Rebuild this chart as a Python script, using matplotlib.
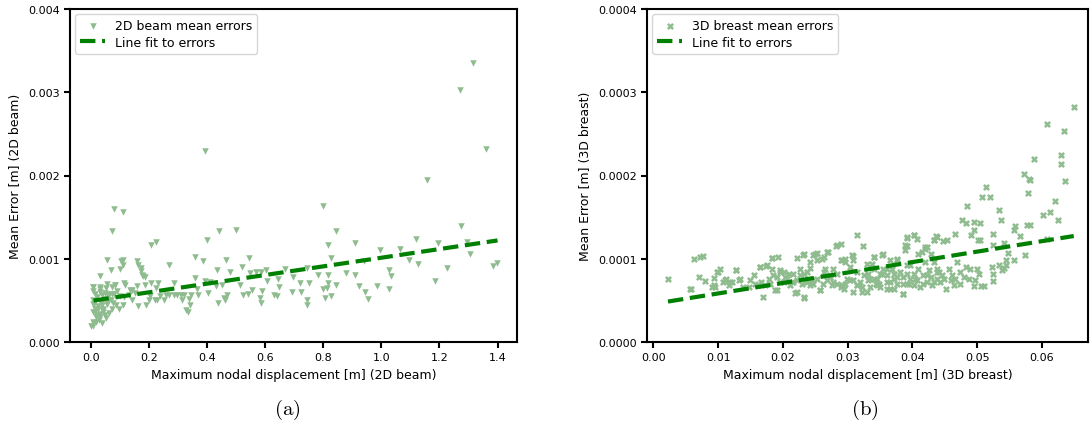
import numpy as np
import matplotlib
matplotlib.use("Agg")
import matplotlib.pyplot as plt
from matplotlib.ticker import FormatStrFormatter

plt.rcParams['font.family'] = ['DejaVu Sans']
plt.rcParams['mathtext.fontset'] = 'cm'

# ---- 2D beam data (x in m, y in 1e-3 m) ----
beam_pts = [
    (1.317, 3.35), (1.270, 3.03), (0.394, 2.30), (1.359, 2.32), (1.157, 1.95),
    (0.080, 1.60), (0.110, 1.56), (0.072, 1.33), (0.799, 1.63), (0.442, 1.33),
    (0.499, 1.34), (0.401, 1.22), (0.206, 1.17), (0.224, 1.20), (0.844, 1.33),
    (0.817, 1.17), (0.908, 1.19), (1.273, 1.39), (1.119, 1.24), (1.194, 1.19),
    (1.296, 1.20), (1.065, 1.12), (0.997, 1.11), (1.305, 1.06), (1.095, 0.98),
    (1.128, 0.94), (1.226, 0.89), (1.383, 0.91), (1.399, 0.95), (1.185, 0.73),
    (0.939, 0.97), (1.026, 0.86), (1.033, 0.79), (1.026, 0.64), (0.984, 0.67),
    (0.956, 0.52), (0.943, 0.60), (0.924, 0.67), (0.910, 0.80), (0.879, 0.83),
    (0.826, 1.01), (0.818, 0.80), (0.815, 0.71), (0.812, 0.65), (0.800, 0.64),
    (0.827, 0.55), (0.807, 0.53), (0.843, 0.68), (0.781, 0.81), (0.743, 0.89),
    (0.752, 0.71), (0.721, 0.71), (0.724, 0.60), (0.744, 0.50), (0.745, 0.45),
    (0.695, 0.78), (0.692, 0.60), (0.669, 0.88), (0.648, 0.66), (0.646, 0.76),
    (0.641, 0.55), (0.630, 0.56), (0.608, 0.73), (0.602, 0.87), (0.585, 0.84),
    (0.588, 0.61), (0.583, 0.53), (0.586, 0.47), (0.568, 0.84), (0.548, 0.83),
    (0.554, 0.62), (0.544, 1.01), (0.522, 0.90), (0.514, 0.69), (0.525, 0.57),
    (0.543, 0.58), (0.479, 0.84), (0.467, 0.99), (0.468, 0.57), (0.459, 0.53),
    (0.463, 0.50), (0.437, 0.47), (0.452, 0.68), (0.435, 0.87), (0.430, 0.67),
    (0.410, 0.72), (0.405, 0.59), (0.393, 0.73), (0.388, 0.97), (0.369, 0.57),
    (0.366, 0.64), (0.360, 0.77), (0.359, 1.02), (0.344, 0.57), (0.339, 0.52),
    (0.343, 0.45), (0.329, 0.39), (0.335, 0.36), (0.320, 0.56), (0.315, 0.50),
    (0.310, 0.57), (0.298, 0.57), (0.286, 0.71), (0.286, 0.57), (0.268, 0.93),
    (0.271, 0.56), (0.253, 0.51), (0.258, 0.56), (0.237, 0.55), (0.229, 0.51),
    (0.232, 0.71), (0.224, 0.65), (0.204, 0.55), (0.200, 0.50), (0.190, 0.44),
    (0.187, 0.69), (0.187, 0.78), (0.180, 0.79), (0.174, 0.85), (0.172, 0.89),
    (0.158, 0.97), (0.158, 0.67), (0.164, 0.43), (0.154, 0.59), (0.144, 0.62),
    (0.131, 0.57), (0.119, 0.69), (0.115, 0.71), (0.110, 0.92), (0.106, 0.97),
    (0.113, 0.99), (0.101, 0.88), (0.116, 0.54), (0.111, 0.44), (0.101, 0.55),
    (0.089, 0.61), (0.083, 0.68), (0.069, 0.87), (0.057, 0.98), (0.032, 0.79),
    (0.009, 0.66), (0.007, 0.61), (0.032, 0.64), (0.053, 0.65), (0.072, 0.66),
    (0.081, 0.58), (0.064, 0.57), (0.049, 0.59), (0.038, 0.56), (0.021, 0.54),
    (0.069, 0.50), (0.087, 0.44), (0.072, 0.40), (0.064, 0.35), (0.049, 0.32),
    (0.032, 0.30), (0.021, 0.32), (0.009, 0.36), (0.015, 0.40), (0.044, 0.40),
    (0.026, 0.43), (0.011, 0.46), (0.034, 0.47), (0.055, 0.46), (0.044, 0.36),
    (0.030, 0.26), (0.018, 0.24), (0.007, 0.19), (0.000, 0.19), (0.038, 0.23),
    (0.053, 0.29), (0.058, 0.50), (0.076, 0.47), (0.009, 0.50), (0.098, 0.40),
    (0.144, 0.50), (0.135, 0.63), (0.176, 0.81), (0.164, 0.92), (0.209, 0.71),
    (0.221, 0.50),
    (0.009, 0.24), (0.020, 0.30), (0.032, 0.34), (0.015, 0.36), (0.026, 0.40),
    (0.043, 0.38), (0.038, 0.44), (0.055, 0.46), (0.049, 0.52), (0.061, 0.50),
    (0.009, 0.46), (0.015, 0.58), (0.032, 0.60), (0.055, 0.58), (0.072, 0.58),
    (0.009, 0.66), (0.032, 0.66), (0.055, 0.70), (0.084, 0.68),
]
beam_x = np.array([p[0] for p in beam_pts])
beam_err = np.array([p[1] for p in beam_pts]) * 1e-3
beam_fit_x = [0.01, 1.40]
beam_fit_y = [0.000498, 0.00122]

# ---- 3D breast data (x in 1e-3 m, y in 1e-4 m) ----
breast_pts = [
    (64.9, 2.82), (60.8, 2.62), (63.4, 2.53), (58.8, 2.20), (62.9, 2.25),
    (63.0, 2.14), (57.2, 2.02), (58.0, 1.96), (58.1, 1.94), (57.8, 1.79),
    (63.6, 1.93), (62.0, 1.69), (61.2, 1.56), (60.1, 1.53), (62.4, 1.47),
    (51.4, 1.86), (50.7, 1.74), (52.0, 1.74), (48.4, 1.63), (53.3, 1.59),
    (53.7, 1.47), (47.7, 1.46), (48.3, 1.43), (49.5, 1.44), (50.5, 1.43),
    (55.8, 1.39), (55.7, 1.34), (56.6, 1.27), (57.7, 1.41), (58.1, 1.41),
    (49.1, 1.28), (49.5, 1.34), (50.1, 1.22), (50.5, 1.22), (52.4, 1.30),
    (52.5, 1.17), (54.1, 1.19), (54.7, 1.07), (54.5, 0.99), (55.7, 0.98),
    (57.4, 1.05), (60.8, 1.24), (46.6, 1.30), (45.4, 1.23), (44.7, 1.21),
    (43.7, 1.27), (43.3, 1.22), (42.3, 1.14), (42.0, 1.12), (40.2, 1.29),
    (39.2, 1.25), (39.1, 1.15), (38.9, 1.10), (40.7, 1.24), (31.5, 1.28),
    (32.3, 1.15), (28.9, 1.18), (28.2, 1.15), (26.9, 1.08), (25.2, 1.07),
    (24.7, 1.05), (23.1, 1.05), (22.2, 1.01), (19.3, 1.02), (18.4, 1.01),
    (26.0, 1.00), (17.4, 0.91), (16.4, 0.90), (12.8, 0.87), (10.3, 0.88),
    (9.8, 0.84), (7.7, 1.03), (7.2, 1.02), (6.3, 1.00), (2.2, 0.76),
    (7.1, 0.78), (8.0, 0.73), (5.7, 0.64), (9.0, 0.66), (9.4, 0.68),
    (10.8, 0.72), (11.3, 0.76), (12.1, 0.72), (13.3, 0.75), (11.7, 0.68),
    (13.9, 0.66), (15.5, 0.81), (17.0, 0.54), (17.8, 0.76), (16.7, 0.72),
    (18.5, 0.80), (18.8, 0.62), (19.6, 0.72), (20.1, 0.84), (20.6, 0.76),
    (21.6, 0.72), (21.8, 0.59), (22.7, 0.80), (23.3, 0.54), (23.7, 0.72),
    (24.2, 0.89), (24.7, 0.70), (25.8, 0.62), (26.5, 0.88), (27.3, 0.81),
    (27.8, 0.72), (28.9, 0.98), (29.1, 0.68), (29.6, 1.00), (30.9, 1.03),
    (30.4, 0.90), (30.9, 0.74), (30.9, 0.60), (31.9, 0.72), (33.0, 0.60),
    (33.1, 0.82), (33.7, 0.94), (34.0, 1.02), (34.3, 0.70), (35.3, 1.05),
    (35.5, 0.88), (35.0, 0.66), (36.6, 0.72), (36.8, 0.88), (37.6, 0.98),
    (37.1, 0.64), (38.6, 0.58), (38.6, 0.78), (39.7, 0.92), (40.2, 0.68),
    (40.9, 0.88), (41.7, 0.80), (42.2, 0.72), (43.3, 0.96), (43.8, 0.88),
    (44.3, 0.72), (45.2, 0.64), (45.6, 0.88), (46.1, 0.80), (46.9, 0.96),
    (47.4, 0.70), (48.2, 0.90), (48.9, 0.88), (49.5, 0.67), (50.0, 0.88),
    (50.2, 0.82), (50.6, 0.67), (51.0, 0.67), (52.3, 0.90), (52.4, 0.82),
    (52.4, 0.73), (53.3, 0.92), (53.8, 0.86), (54.2, 0.89), (54.4, 0.92),
    (42.8, 0.78), (41.5, 1.08), (38.1, 0.84), (36.1, 0.80), (34.5, 0.76),
    (32.5, 0.80), (31.4, 0.68), (29.9, 0.76), (28.3, 0.82), (26.8, 0.74),
    (25.2, 0.76), (23.7, 0.84), (22.2, 0.74), (21.1, 0.68), (20.1, 0.72),
    (19.1, 0.78), (18.0, 0.70), (16.2, 0.68), (14.9, 0.74), (46.4, 0.68),
    (45.9, 0.74), (44.6, 0.80), (43.8, 0.76), (43.0, 0.68), (41.7, 0.70),
    (40.7, 0.74), (39.7, 0.76), (39.2, 0.70), (37.6, 0.70), (37.1, 0.76),
    (36.1, 0.64), (34.8, 0.70), (34.0, 0.76), (33.5, 0.66), (32.2, 0.66),
    (31.4, 0.84), (29.6, 0.70), (28.9, 0.66), (47.4, 0.84), (47.9, 0.78),
    (48.7, 0.76), (49.7, 0.74), (46.6, 0.76), (44.9, 0.76), (44.1, 0.84),
    (42.5, 0.86), (42.0, 0.96), (40.2, 0.82), (39.2, 0.82), (38.6, 0.70),
    (37.1, 0.82), (35.3, 0.82), (33.2, 0.74), (27.6, 0.68), (26.2, 0.70),
    (24.5, 0.74), (22.9, 0.70), (20.9, 0.82), (19.6, 0.86), (18.3, 0.88),
    (28.3, 1.16), (23.2, 1.06), (25.0, 1.06), (26.8, 1.08), (26.3, 1.02),
    (25.3, 0.98), (24.2, 0.96), (22.7, 0.88), (29.1, 0.98), (29.6, 0.96),
    (30.6, 1.04), (30.9, 0.98), (33.0, 0.94), (34.0, 1.02), (35.5, 1.06),
    (36.6, 0.98), (37.6, 1.00), (38.9, 1.16), (39.1, 1.26), (40.2, 1.29),
    (40.9, 1.06), (42.0, 1.14), (43.3, 1.22), (43.8, 1.26), (42.8, 1.06),
    (21.6, 0.82), (23.2, 0.82), (22.2, 0.60), (23.3, 0.53), (24.2, 0.72),
    (25.7, 0.62), (27.3, 0.78), (28.3, 0.70), (29.4, 0.64), (30.4, 0.74),
    (31.4, 0.68), (32.2, 0.60), (33.5, 0.76), (34.5, 0.68), (35.0, 0.82),
    (36.1, 0.72), (36.6, 0.64), (37.6, 0.78), (38.6, 0.58), (39.4, 0.70),
    (40.4, 0.76), (41.2, 0.66), (42.2, 0.80), (43.3, 0.72), (43.8, 0.84),
    (27.8, 0.88), (34.0, 0.88), (36.1, 0.88), (39.1, 0.92), (26.3, 0.84),
    (24.2, 0.68), (5.8, 0.64), (9.3, 0.77), (10.0, 0.84), (9.5, 0.66),
    (11.1, 0.74), (11.9, 0.72), (12.7, 0.86), (13.4, 0.76), (16.5, 0.90),
    (17.5, 0.92), (18.3, 1.01), (19.1, 0.62), (19.6, 0.84), (20.4, 0.78),
    (21.4, 0.72), (17.3, 0.68), (15.7, 0.70), (14.7, 0.66),
]
breast_x = np.array([p[0] for p in breast_pts]) * 1e-3
breast_err = np.array([p[1] for p in breast_pts]) * 1e-4
breast_fit_x = [0.00227, 0.0649]
breast_fit_y = [0.0000486, 0.0001273]

pt_color = '#8fbc8f'
fit_color = '#008000'

fig = plt.figure(figsize=(10.92, 4.35), dpi=100)
ax1 = fig.add_axes([70/1092, 1-343/435, (517-70)/1092, (343-10)/435])
ax2 = fig.add_axes([647/1092, 1-343/435, (1088-647)/1092, (343-10)/435])

ax1.scatter(beam_x, beam_err, marker='v', s=22, color=pt_color, linewidths=0,
            label='2D beam mean errors')
ax1.plot(beam_fit_x, beam_fit_y, '--', color=fit_color, lw=3,
         label='Line fit to errors')
ax1.set_xlim(-0.071, 1.467)
ax1.set_ylim(0, 0.004)
ax1.set_xticks(np.arange(0, 1.41, 0.2))
ax1.set_yticks([0, 0.001, 0.002, 0.003, 0.004])
ax1.yaxis.set_major_formatter(FormatStrFormatter('%.3f'))
ax1.xaxis.set_major_formatter(FormatStrFormatter('%.1f'))
ax1.set_xlabel('Maximum nodal displacement [m] (2D beam)', fontsize=9)
ax1.set_ylabel('Mean Error [m] (2D beam)', fontsize=9)

ax2.scatter(breast_x, breast_err, marker='x', s=14, color=pt_color, linewidths=1.8,
            label='3D breast mean errors')
ax2.plot(breast_fit_x, breast_fit_y, '--', color=fit_color, lw=3,
         label='Line fit to errors')
ax2.set_xlim(-0.00097, 0.0671)
ax2.set_ylim(0, 0.0004)
ax2.set_xticks(np.arange(0, 0.061, 0.01))
ax2.set_yticks([0, 0.0001, 0.0002, 0.0003, 0.0004])
ax2.yaxis.set_major_formatter(FormatStrFormatter('%.4f'))
ax2.xaxis.set_major_formatter(FormatStrFormatter('%.2f'))
ax2.set_xlabel('Maximum nodal displacement [m] (3D breast)', fontsize=9)
ax2.set_ylabel('Mean Error [m] (3D breast)', fontsize=9)

for ax in (ax1, ax2):
    ax.tick_params(labelsize=8, width=1.5, length=4)
    for sp in ax.spines.values():
        sp.set_linewidth(1.5)
    ax.legend(loc='upper left', fontsize=9, borderaxespad=0.4,
              handlelength=2.0, borderpad=0.4, labelspacing=0.3)

fig.text(287/1092, 1-410/435, r'$\mathrm{(a)}$', ha='center', va='center', fontsize=15)
fig.text(865/1092, 1-410/435, r'$\mathrm{(b)}$', ha='center', va='center', fontsize=15)

fig.savefig('out.png', dpi=100)
